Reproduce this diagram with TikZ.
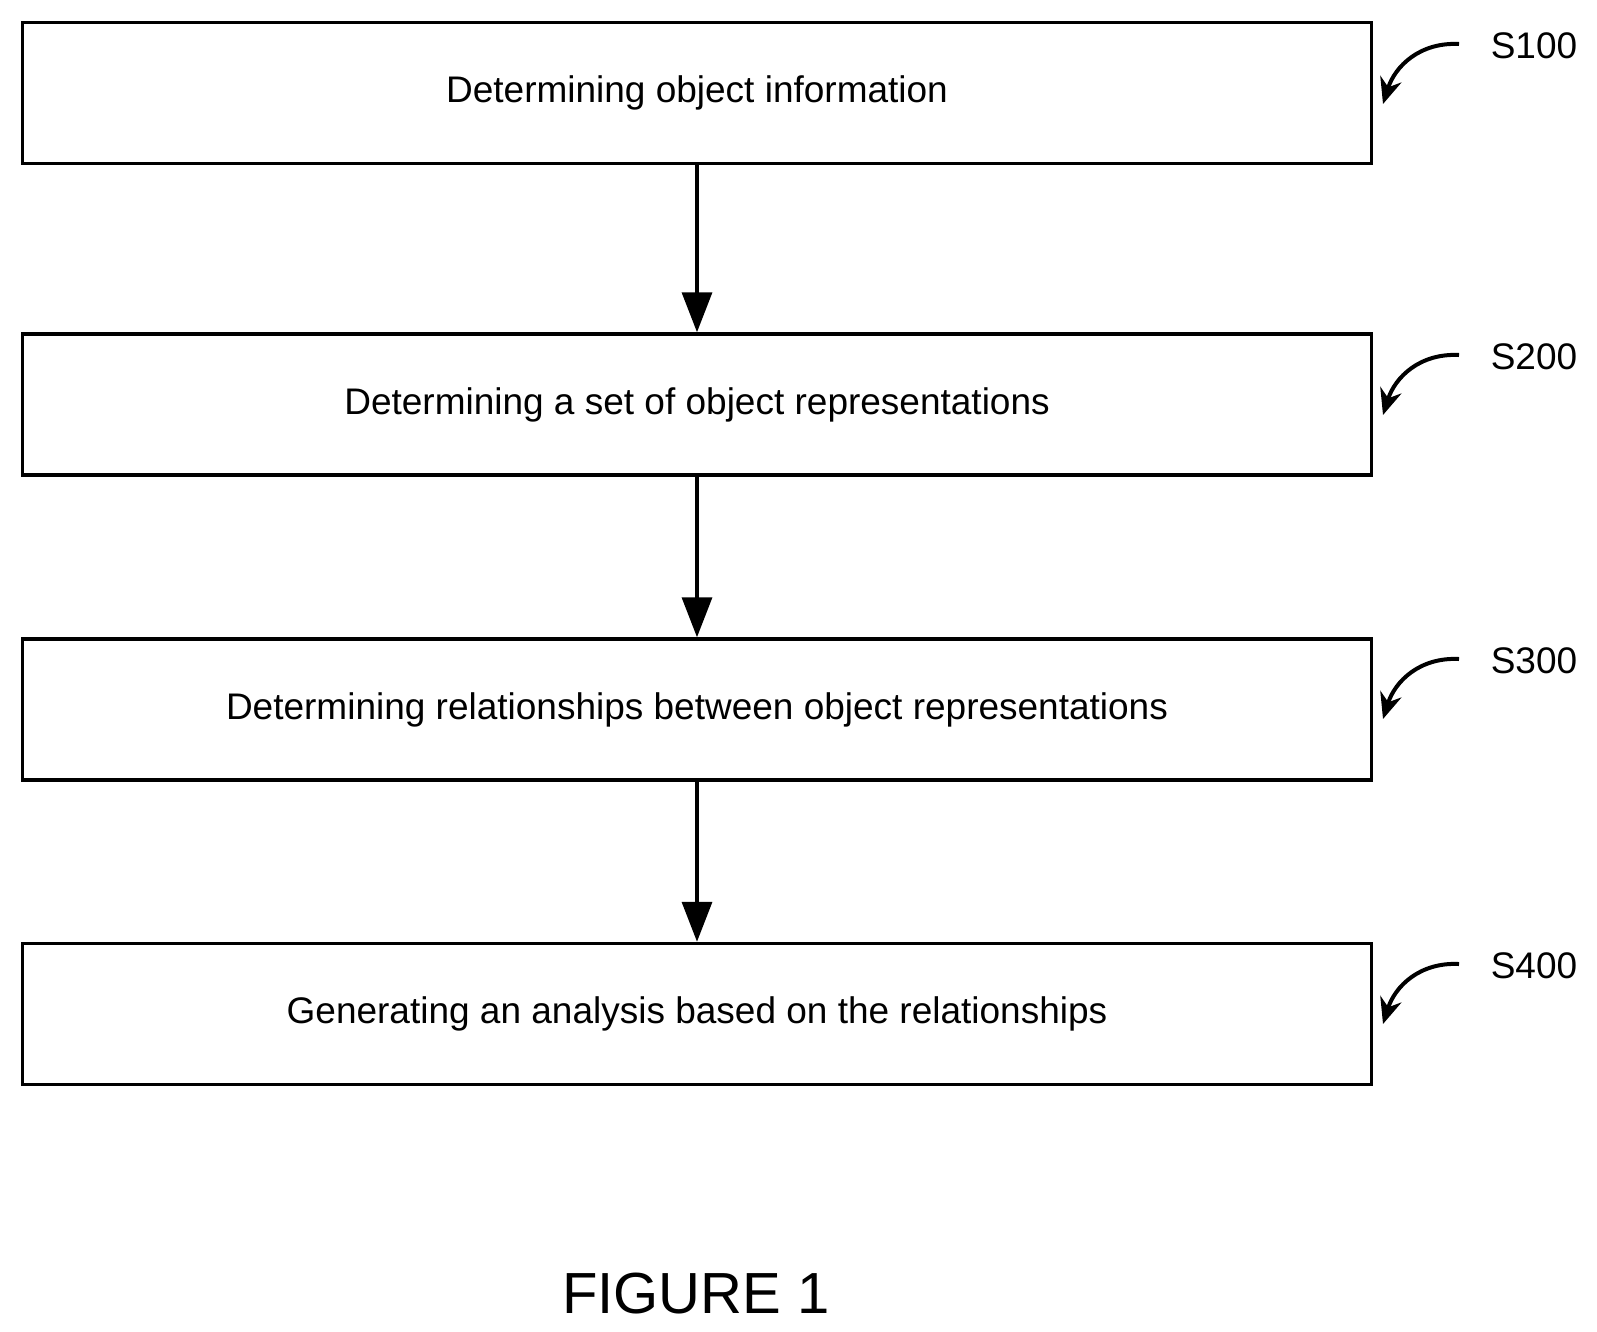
\documentclass[tikz,border=0pt]{standalone}
\usepackage{fontspec}
\setmainfont{Liberation Sans}
\usetikzlibrary{arrows.meta}
\begin{document}
\begin{tikzpicture}[x=1pt,y=-1pt,
  box/.style={draw,line width=3.5pt,minimum width=1349pt,minimum height=141pt,inner sep=0pt,font=\fontsize{37}{44}\selectfont},
  flow/.style={line width=3.5pt,-{Triangle[length=40pt,width=30pt]}},
  lab/.style={font=\fontsize{37}{44}\selectfont},
  cur/.style={line width=4pt,-{Stealth[length=26pt,width=22pt]}}]
\useasboundingbox (0,0) rectangle (1597,1331);
\node[box] (b1) at (697,93) {Determining object information};
\node[box] (b2) at (697,404.5) {Determining a set of object representations};
\node[box] (b3) at (697,709.5) {Determining relationships between object representations};
\node[box] (b4) at (697,1014) {Generating an analysis based on the relationships};
\draw[flow] (b1.south -| 697,0) -- (b2.north);
\draw[flow] (b2) -- (b3);
\draw[flow] (b3) -- (b4);
\foreach \i/\y/\t in {1/46/S100,2/357/S200,3/661/S300,4/966/S400}{
  \node[lab] (l\i) at (1534,\y) {\t};
  \coordinate (s\i) at (1459,\y-2);
  \coordinate (e\i) at (1383,\y+58);
  \draw[cur] (s\i) .. controls (1420,\y-4) and (1395,\y+20) .. (e\i);
}
\node[font=\fontsize{58}{66}\selectfont] (fig) at (696,1294) {FIGURE 1};
\end{tikzpicture}
\end{document}
